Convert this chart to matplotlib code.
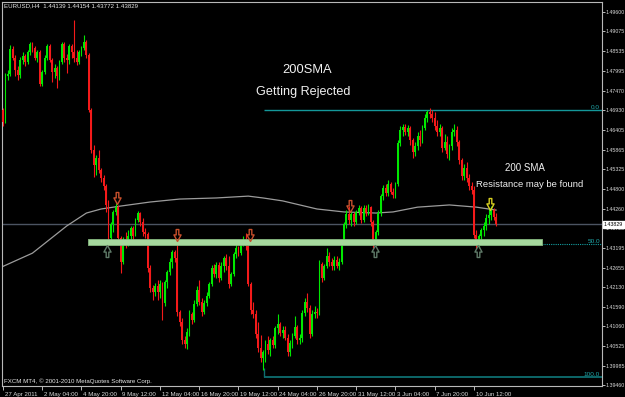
import matplotlib
matplotlib.use("Agg")
import matplotlib.pyplot as plt
import numpy as np
from matplotlib.path import Path
from matplotlib.transforms import ScaledTranslation, blended_transform_factory

plt.rcParams['font.family'] = ['Liberation Sans', 'DejaVu Sans']

# EURUSD H4 candles (open of each bar = previous close)
first_open = 1.4694
closes = [1.4661, 1.4786, 1.4792, 1.4860, 1.4835, 1.4803, 1.4789, 1.4830, 1.4841, 1.4824,
          1.4852, 1.4873, 1.4862, 1.4835, 1.4852, 1.4765, 1.4797, 1.4835, 1.4868, 1.4830,
          1.4797, 1.4808, 1.4786, 1.4824, 1.4873, 1.4835, 1.4830, 1.4868, 1.4852, 1.4835,
          1.4824, 1.4852, 1.4862, 1.4879, 1.4843, 1.4694, 1.4585, 1.4545, 1.4564, 1.4531,
          1.4509, 1.4488, 1.4436, 1.4346, 1.4384, 1.4417, 1.4430, 1.4346, 1.4281, 1.4341,
          1.4330, 1.4352, 1.4373, 1.4352, 1.4395, 1.4414, 1.4390, 1.4362, 1.4357, 1.4265,
          1.4210, 1.4199, 1.4216, 1.4199, 1.4221, 1.4169, 1.4227, 1.4254, 1.4281, 1.4308,
          1.4292, 1.4145, 1.4118, 1.4069, 1.4058, 1.4091, 1.4140, 1.4123, 1.4167, 1.4205,
          1.4172, 1.4145, 1.4169, 1.4189, 1.4221, 1.4265, 1.4248, 1.4273, 1.4237, 1.4270,
          1.4292, 1.4270, 1.4221, 1.4248, 1.4303, 1.4319, 1.4305, 1.4335, 1.4341, 1.4324,
          1.4221, 1.4150, 1.4140, 1.4085, 1.4047, 1.4020, 1.4036, 1.4058, 1.4042, 1.4069,
          1.4055, 1.4102, 1.4112, 1.4088, 1.4096, 1.4074, 1.4036, 1.4061, 1.4080, 1.4104,
          1.4069, 1.4074, 1.4142, 1.4172, 1.4156, 1.4085, 1.4140, 1.4145, 1.4142, 1.4275,
          1.4237, 1.4270, 1.4297, 1.4281, 1.4270, 1.4286, 1.4270, 1.4281, 1.4335, 1.4384,
          1.4411, 1.4395, 1.4411, 1.4390, 1.4417, 1.4428, 1.4395, 1.4428, 1.4414, 1.4430,
          1.4390, 1.4333, 1.4362, 1.4414, 1.4460, 1.4482, 1.4468, 1.4493, 1.4471, 1.4463,
          1.4493, 1.4604, 1.4640, 1.4648, 1.4634, 1.4645, 1.4612, 1.4580, 1.4596, 1.4623,
          1.4612, 1.4645, 1.4672, 1.4689, 1.4683, 1.4672, 1.4651, 1.4634, 1.4645, 1.4591,
          1.4607, 1.4574, 1.4596, 1.4634, 1.4640, 1.4607, 1.4558, 1.4515, 1.4536, 1.4509,
          1.4488, 1.4477, 1.4354, 1.4330, 1.4352, 1.4368, 1.4379, 1.4401, 1.4409, 1.4422,
          1.4403, 1.43829]
highs = [1.4700, 1.4795, 1.4803, 1.4871, 1.4868, 1.4843, 1.4814, 1.4838, 1.4852, 1.4846,
         1.4857, 1.4879, 1.4879, 1.4868, 1.4857, 1.4857, 1.4803, 1.4843, 1.4873, 1.4873,
         1.4835, 1.4819, 1.4814, 1.4830, 1.4879, 1.4879, 1.4846, 1.4873, 1.4873, 1.4939,
         1.4857, 1.4857, 1.4868, 1.4898, 1.4884, 1.4849, 1.4700, 1.4599, 1.4572, 1.4585,
         1.4536, 1.4517, 1.4493, 1.4449, 1.4390, 1.4422, 1.4441, 1.4436, 1.4352, 1.4349,
         1.4362, 1.4368, 1.4379, 1.4379, 1.4401, 1.4420, 1.4417, 1.4401, 1.4373, 1.4362,
         1.4273, 1.4218, 1.4224, 1.4232, 1.4232, 1.4227, 1.4232, 1.4259, 1.4292, 1.4314,
         1.4314, 1.4341, 1.4150, 1.4129, 1.4080, 1.4102, 1.4150, 1.4145, 1.4178, 1.4216,
         1.4232, 1.4183, 1.4178, 1.4199, 1.4227, 1.4273, 1.4275, 1.4281, 1.4281, 1.4281,
         1.4297, 1.4303, 1.4297, 1.4254, 1.4308, 1.4330, 1.4324, 1.4341, 1.4352, 1.4360,
         1.4341, 1.4227, 1.4172, 1.4150, 1.4118, 1.4083, 1.4042, 1.4069, 1.4080, 1.4074,
         1.4080, 1.4107, 1.4140, 1.4118, 1.4107, 1.4107, 1.4085, 1.4069, 1.4088, 1.4134,
         1.4110, 1.4085, 1.4150, 1.4183, 1.4197, 1.4164, 1.4150, 1.4161, 1.4156, 1.4286,
         1.4281, 1.4275, 1.4319, 1.4308, 1.4292, 1.4297, 1.4297, 1.4292, 1.4341, 1.4390,
         1.4422, 1.4433, 1.4417, 1.4417, 1.4422, 1.4436, 1.4433, 1.4436, 1.4436, 1.4439,
         1.4433, 1.4395, 1.4368, 1.4422, 1.4466, 1.4490, 1.4493, 1.4504, 1.4498, 1.4482,
         1.4498, 1.4612, 1.4651, 1.4656, 1.4656, 1.4653, 1.4651, 1.4618, 1.4607, 1.4634,
         1.4640, 1.4653, 1.4683, 1.4694, 1.4700, 1.4694, 1.4689, 1.4667, 1.4656, 1.4651,
         1.4629, 1.4623, 1.4602, 1.4645, 1.4656, 1.4651, 1.4612, 1.4564, 1.4547, 1.4553,
         1.4520, 1.4498, 1.4488, 1.4368, 1.4357, 1.4373, 1.4390, 1.4411, 1.4428, 1.4433,
         1.4428, 1.4414]
lows = [1.4651, 1.4659, 1.4776, 1.4786, 1.4830, 1.4786, 1.4776, 1.4781, 1.4819, 1.4814,
        1.4819, 1.4843, 1.4852, 1.4830, 1.4824, 1.4759, 1.4759, 1.4792, 1.4830, 1.4824,
        1.4770, 1.4781, 1.4754, 1.4776, 1.4819, 1.4824, 1.4795, 1.4819, 1.4835, 1.4824,
        1.4816, 1.4819, 1.4841, 1.4857, 1.4835, 1.4689, 1.4577, 1.4512, 1.4517, 1.4523,
        1.4498, 1.4477, 1.4417, 1.4324, 1.4341, 1.4362, 1.4409, 1.4335, 1.4251, 1.4275,
        1.4319, 1.4324, 1.4335, 1.4341, 1.4352, 1.4390, 1.4379, 1.4352, 1.4346, 1.4254,
        1.4199, 1.4178, 1.4189, 1.4178, 1.4183, 1.4123, 1.4161, 1.4210, 1.4246, 1.4265,
        1.4281, 1.4134, 1.4107, 1.4058, 1.4047, 1.4044, 1.4080, 1.4112, 1.4118, 1.4161,
        1.4164, 1.4134, 1.4140, 1.4161, 1.4183, 1.4216, 1.4240, 1.4237, 1.4227, 1.4232,
        1.4254, 1.4259, 1.4210, 1.4216, 1.4243, 1.4292, 1.4297, 1.4300, 1.4324, 1.4314,
        1.4216, 1.4140, 1.4129, 1.4074, 1.4036, 1.4009, 1.3987, 1.4009, 1.4031, 1.4025,
        1.4047, 1.4047, 1.4085, 1.4080, 1.4074, 1.4069, 1.4025, 1.4025, 1.4047, 1.4074,
        1.4058, 1.4058, 1.4063, 1.4134, 1.4145, 1.4074, 1.4080, 1.4129, 1.4129, 1.4137,
        1.4227, 1.4232, 1.4265, 1.4270, 1.4259, 1.4259, 1.4265, 1.4259, 1.4275, 1.4330,
        1.4373, 1.4384, 1.4379, 1.4379, 1.4384, 1.4409, 1.4387, 1.4390, 1.4406, 1.4409,
        1.4379, 1.4319, 1.4324, 1.4354, 1.4406, 1.4449, 1.4460, 1.4460, 1.4466, 1.4455,
        1.4455, 1.4488, 1.4596, 1.4623, 1.4626, 1.4623, 1.4599, 1.4564, 1.4569, 1.4585,
        1.4596, 1.4604, 1.4640, 1.4661, 1.4672, 1.4661, 1.4640, 1.4623, 1.4623, 1.4580,
        1.4585, 1.4564, 1.4558, 1.4585, 1.4623, 1.4596, 1.4547, 1.4504, 1.4504, 1.4498,
        1.4477, 1.4466, 1.4346, 1.4316, 1.4319, 1.4341, 1.4352, 1.4368, 1.4384, 1.4395,
        1.4395, 1.4379]

# 200 SMA
sma_bars = [-1, 12, 26, 34, 40, 48, 60, 72, 87, 100, 106, 114, 121, 128, 139, 152, 159, 169, 182, 193, 201]
sma_vals = [1.4266, 1.4305, 1.4379, 1.4414, 1.4425, 1.4433, 1.4444, 1.4452, 1.4455, 1.4460, 1.4455,
            1.4447, 1.4436, 1.4425, 1.4417, 1.4414, 1.4417, 1.4430, 1.4436, 1.4430, 1.4422]

date_bars = [0, 16, 32, 48, 64, 80, 96, 112, 128, 144, 160, 176, 192]
date_labels = ['27 Apr 2011', '2 May 04:00', '4 May 20:00', '9 May 12:00', '12 May 04:00',
               '16 May 20:00', '19 May 12:00', '24 May 04:00', '26 May 20:00', '31 May 12:00',
               '3 Jun 04:00', '7 Jun 20:00', '10 Jun 12:00']
price_ticks = [1.49600, 1.49075, 1.48535, 1.47995, 1.47470, 1.46930, 1.46405, 1.45865, 1.45325,
               1.44800, 1.44260, 1.43725, 1.43195, 1.42655, 1.42130, 1.41590, 1.41060, 1.40525,
               1.39985, 1.39460]

# fibonacci retracement and support band
fib_start = 106.4
fib_levels = [1.4694, 1.4331, 1.3969]
fib_names = ['0.0', '50.0', '100.0']
band_start, band_end = 34.7, 219.7
band_low, band_high = 1.4328, 1.4343

# hand drawn arrows
arrow_bars = [42.4, 46.5, 70.9, 100.7, 141.5, 151.7, 193.6, 198.5]
arrow_prices = [1.4311, 1.4455, 1.4354, 1.4354, 1.4433, 1.4311, 1.4311, 1.4439]
arrow_kinds = ['up', 'down', 'down', 'down', 'down', 'up', 'up', 'yellow']

fig = plt.figure(figsize=(6.25, 3.97), dpi=100, facecolor='black')
ax = fig.add_axes([2/625, 11/397, 600/625, 384/397])
ax.set_facecolor('black')
ax.set_xlim(-0.41, 244.2)
ax.set_ylim(1.39439, 1.49876)

c = np.array(closes)
o = np.array([first_open] + closes[:-1])
x = np.arange(len(c))
cols = np.where(c >= o, '#00e800', '#f41a1a')

ax.axhline(closes[-1], color='#4c5462', lw=1, zorder=1)
ax.plot(sma_bars, sma_vals, color='#9c9c9c', lw=0.9, zorder=2)
ax.vlines(x, lows, highs, colors=cols, lw=0.8, zorder=3)
ax.bar(x, np.abs(c - o), bottom=np.minimum(o, c), width=0.75, color=cols, lw=0, zorder=3)

# fib lines
ax.hlines(fib_levels[0], fib_start, 244.2, color='#14989a', lw=1, zorder=2)
ax.hlines(fib_levels[1], fib_start, 244.2, color='#14a0a2', lw=0.8, ls=(0, (1, 1)), zorder=2)
ax.hlines(fib_levels[2], fib_start, 244.2, color='#0e6e70', lw=1.3, zorder=2)
ax.vlines(fib_start, fib_levels[2], 1.3993, color='#0e6e70', lw=1, zorder=2)
trans = blended_transform_factory(ax.transAxes, ax.transData)
for lev, name in zip(fib_levels, fib_names):
    ax.text(0.997, lev, name, transform=trans, ha='right', va='bottom',
            fontsize=4.6, color='#20a8aa')

ax.fill_between([band_start, band_end], band_low, band_high, facecolor='#a6d89e',
                edgecolor='#86b880', lw=0.6, zorder=4)

# block arrows as custom markers
down_path = Path([(-0.22, 1), (0.22, 1), (0.22, 0.1), (0.6, 0.1), (0, -1),
                  (-0.6, 0.1), (-0.22, 0.1), (-0.22, 1)], closed=True)
up_path = Path([(px, -py) for px, py in down_path.vertices], closed=True)
arrow_style = {'up': (up_path, '#5f7a68'), 'down': (down_path, '#c8502c'),
               'yellow': (down_path, '#d8d020')}
for ab, ap, kind in zip(arrow_bars, arrow_prices, arrow_kinds):
    mk, col = arrow_style[kind]
    ax.plot(ab, ap, marker=mk, ms=8.6, mfc='none', mec=col, mew=1, zorder=5)

# annotations
ax.text(124, 1.4803, '200SMA', color='#f0f0f0', fontsize=9.3, ha='center', va='center')
ax.text(122.3, 1.4743, 'Getting Rejected', color='#f0f0f0', fontsize=9.1, ha='center', va='center')
ax.text(212.8, 1.4536, '200 SMA', color='#f0f0f0', fontsize=7, ha='center', va='center')
ax.text(214.6, 1.4492, 'Resistance may be found', color='#f0f0f0', fontsize=6.8,
        ha='center', va='center')
ax.text(0.004, 0.9896, 'EURUSD,H4  1.44139 1.44154 1.43772 1.43829', transform=ax.transAxes,
        color='#e8e8e8', fontsize=4.4, va='center')
ax.text(0.004, 0.013, 'FXCM MT4, \u00a9 2001-2010 MetaQuotes Software Corp.',
        transform=ax.transAxes, color='#e8e8e8', fontsize=4.4, va='center')

# axes like the terminal
for sp in ax.spines.values():
    sp.set_color('#b8b8b8')
    sp.set_linewidth(0.8)
ax.yaxis.tick_right()
ax.set_yticks(price_ticks)
ax.set_yticklabels([f'{v:.5f}' for v in price_ticks])
ax.set_xticks(date_bars)
ax.set_xticklabels(date_labels, ha='left')
ax.tick_params(axis='x', colors='#d8d8d8', length=3, width=0.6, pad=1.2, labelsize=4.4)
ax.tick_params(axis='y', colors='#d8d8d8', length=2, width=0.6, pad=0.6, labelsize=3.8)
shift = ScaledTranslation(1.2/72, 0, fig.dpi_scale_trans)
for lab in ax.get_xticklabels():
    lab.set_transform(lab.get_transform() + shift)

ax.text(1.0 + 2/600, closes[-1], '1.43829', transform=trans, ha='left', va='center',
        fontsize=3.8, color='black', zorder=6,
        bbox=dict(boxstyle='square,pad=0.25', fc='white', ec='white'))

fig.savefig('out.png', dpi=100, facecolor='black')
